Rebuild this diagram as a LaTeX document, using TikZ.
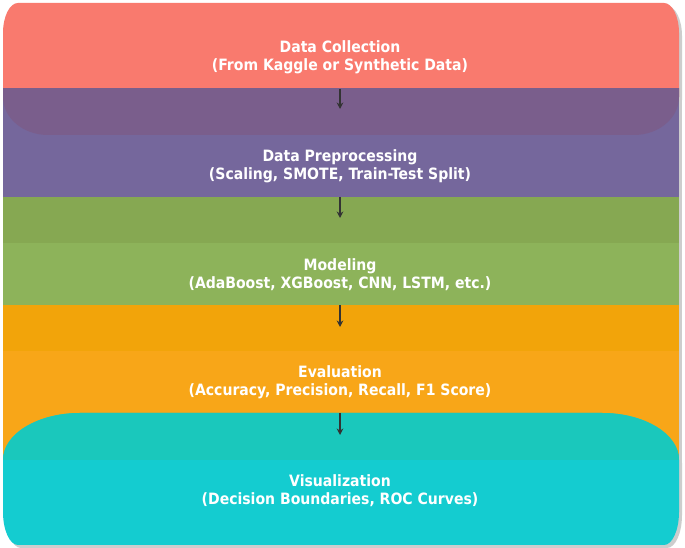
\documentclass[tikz,border=0pt]{standalone}
\usepackage{fontspec}
\setmainfont{DejaVu Sans Condensed}
\usetikzlibrary{arrows.meta}
\definecolor{cred}{HTML}{F97A6E}
\definecolor{cmix}{HTML}{7A5E8C}
\definecolor{cpurple}{HTML}{75679C}
\definecolor{cgreenA}{HTML}{86A852}
\definecolor{cgreenB}{HTML}{8DB35A}
\definecolor{corangeA}{HTML}{F2A40A}
\definecolor{corangeB}{HTML}{F8A618}
\definecolor{ctealA}{HTML}{1AC8BC}
\definecolor{ctealB}{HTML}{14CCD0}
\definecolor{cshadow}{HTML}{CDCDCD}
\definecolor{carrow}{HTML}{333333}
\tikzset{
  label text/.style={text=white, font=\bfseries\fontsize{15.6}{18}\selectfont, align=center},
  flow arrow/.style={draw=carrow, line width=1.7pt, -{Stealth[length=6.5pt,width=6.5pt]}},
}
\newcommand{\redshape}{(3,451) -- (3,515) arc[start angle=180,end angle=90,x radius=15pt,y radius=30pt] -- (664,545) arc[start angle=90,end angle=0,x radius=15pt,y radius=30pt] -- (679,451) arc[start angle=0,end angle=-90,x radius=45pt,y radius=38pt] -- (48,413) arc[start angle=-90,end angle=-180,x radius=45pt,y radius=38pt] -- cycle}
\newcommand{\tealshape}{(3,36) -- (3,88) arc[start angle=180,end angle=90,x radius=77pt,y radius=47pt] -- (602,135) arc[start angle=90,end angle=0,x radius=77pt,y radius=47pt] -- (679,36) arc[start angle=0,end angle=-90,x radius=15pt,y radius=33pt] -- (18,3) arc[start angle=-90,end angle=-180,x radius=15pt,y radius=33pt] -- cycle}
\begin{document}
\begin{tikzpicture}[x=1pt,y=1pt]
\useasboundingbox (0,0) rectangle (685,548);
\fill[white] (0,0) rectangle (685,548);
% shadows
\begin{scope}[shift={(3,-3)}]
  \fill[cshadow] \redshape;
  \fill[cshadow] (3,88) rectangle (679,459);
  \fill[cshadow] \tealshape;
\end{scope}
% red box
\fill[cred] \redshape;
% purple band
\fill[cpurple] (3,351) rectangle (679,459);
\begin{scope}
  \clip (3,351) rectangle (679,459);
  \fill[cmix] \redshape;
\end{scope}
% green band
\fill[cgreenB] (3,243) rectangle (679,351);
\fill[cgreenA] (3,305) rectangle (679,351);
% orange band
\fill[corangeB] (3,88) rectangle (679,243);
\fill[corangeA] (3,197) rectangle (679,243);
% teal box
\fill[ctealB] \tealshape;
\begin{scope}
  \clip (0,88) rectangle (685,200);
  \fill[ctealA] \tealshape;
\end{scope}
% labels
\node[label text] (collect) at (340,490.5) {Data Collection\\(From Kaggle or Synthetic Data)};
\node[label text] (prep) at (340,382) {Data Preprocessing\\(Scaling, SMOTE, Train-Test Split)};
\node[label text] (model) at (340,273.8) {Modeling\\(AdaBoost, XGBoost, CNN, LSTM, etc.)};
\node[label text] (eval) at (340,165.3) {Evaluation\\(Accuracy, Precision, Recall, F1 Score)};
\node[label text] (vis) at (340,57) {Visualization\\(Decision Boundaries, ROC Curves)};
% arrow anchors
\coordinate (a1s) at (340,459); \coordinate (a1e) at (340,439);
\coordinate (a2s) at (340,351); \coordinate (a2e) at (340,330);
\coordinate (a3s) at (340,243); \coordinate (a3e) at (340,221);
\coordinate (a4s) at (340,135); \coordinate (a4e) at (340,113);
\draw[flow arrow] (a1s) -- (a1e);
\draw[flow arrow] (a2s) -- (a2e);
\draw[flow arrow] (a3s) -- (a3e);
\draw[flow arrow] (a4s) -- (a4e);
\end{tikzpicture}
\end{document}
